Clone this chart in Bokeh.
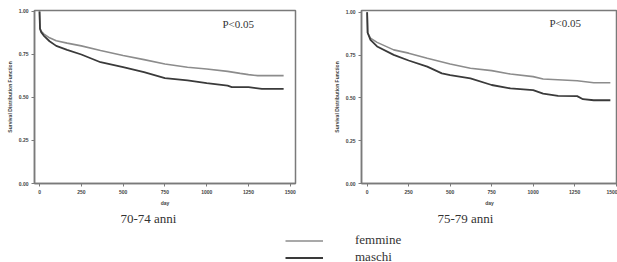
from bokeh.plotting import figure
from bokeh.layouts import column, row
from bokeh.models import (FixedTicker, Title, Label, Legend, LegendItem,
                          NumeralTickFormatter, Range1d)
from bokeh.embed import file_html
from bokeh.resources import INLINE

# ---------------- data ----------------
x_ticks = [0, 250, 500, 750, 1000, 1250, 1500]
y_ticks = [0.0, 0.25, 0.5, 0.75, 1.0]
panel_titles = ["70-74 anni", "75-79 anni"]
series_names = ["femmine", "maschi"]
p_text = "P<0.05"

l_fem_days = [0, 3, 10, 25, 60, 100, 165, 250, 365, 500, 625, 750, 885, 1000, 1125, 1200, 1250, 1305, 1460]
l_fem_surv = [1.0, 0.90, 0.885, 0.87, 0.847, 0.83, 0.816, 0.80, 0.773, 0.744, 0.72, 0.695, 0.676, 0.666, 0.652, 0.64, 0.633, 0.627, 0.627]
l_mas_days = [0, 3, 10, 25, 60, 100, 165, 250, 365, 500, 625, 750, 885, 1000, 1125, 1150, 1250, 1330, 1460]
l_mas_surv = [1.0, 0.90, 0.88, 0.86, 0.827, 0.80, 0.777, 0.75, 0.705, 0.676, 0.647, 0.612, 0.60, 0.583, 0.569, 0.56, 0.56, 0.55, 0.55]

r_fem_days = [0, 3, 20, 60, 160, 250, 362, 500, 622, 750, 863, 1000, 1060, 1265, 1365, 1465]
r_fem_surv = [1.0, 0.88, 0.849, 0.824, 0.78, 0.761, 0.731, 0.698, 0.673, 0.659, 0.639, 0.624, 0.61, 0.60, 0.588, 0.588]
r_mas_days = [0, 3, 20, 60, 160, 250, 362, 450, 500, 622, 750, 863, 1000, 1060, 1150, 1265, 1300, 1365, 1465]
r_mas_surv = [1.0, 0.88, 0.839, 0.80, 0.751, 0.718, 0.682, 0.643, 0.633, 0.614, 0.575, 0.555, 0.545, 0.525, 0.512, 0.51, 0.492, 0.486, 0.486]

FEM_COLOR = "#8c8c8c"
MAS_COLOR = "#3a3a3a"
FRAME_COLOR = "#7a7a7a"
SERIF = "Liberation Serif"


def make_panel(width, x_range, y_range, mb_left, mb_right, mb_top,
               fem_x, fem_y, mas_x, mas_y, caption, cap_offset, p_x, p_y):
    p = figure(width=width, height=225, output_backend="svg", toolbar_location=None,
               x_range=Range1d(*x_range), y_range=Range1d(*y_range),
               min_border_left=mb_left, min_border_right=mb_right,
               min_border_top=mb_top, min_border_bottom=0,
               background_fill_color="white", border_fill_color="white")
    p.grid.visible = False
    p.outline_line_color = FRAME_COLOR
    p.outline_line_width = 1.5
    p.line(fem_x, fem_y, line_color=FEM_COLOR, line_width=1.6)
    p.line(mas_x, mas_y, line_color=MAS_COLOR, line_width=1.8)

    for ax in (p.xaxis[0], p.yaxis[0]):
        ax.axis_line_color = FRAME_COLOR
        ax.axis_line_width = 1.5
        ax.major_tick_line_color = FRAME_COLOR
        ax.major_tick_out = 3
        ax.major_tick_in = 0
        ax.minor_tick_line_color = None
        ax.major_label_text_font = "Liberation Sans"
        ax.major_label_text_font_size = "5px"
        ax.major_label_text_font_style = "bold"
        ax.major_label_text_color = "#444444"
        ax.axis_label_text_font = "Liberation Sans"
        ax.axis_label_text_font_size = "5px"
        ax.axis_label_text_font_style = "bold"
        ax.axis_label_text_color = "#444444"
        ax.major_label_standoff = 3
        ax.axis_label_standoff = 3

    p.xaxis.ticker = FixedTicker(ticks=x_ticks)
    p.yaxis.ticker = FixedTicker(ticks=y_ticks)
    p.yaxis.formatter = NumeralTickFormatter(format="0.00")
    p.xaxis.axis_label = "day"
    p.yaxis.axis_label = "Survival Distribution Function"
    p.yaxis.major_label_orientation = "horizontal"

    p.add_layout(Label(x=p_x, y=p_y, text=p_text, text_font=SERIF,
                       text_font_size="11px", text_color="#333333",
                       text_baseline="middle", text_align="left"))

    p.add_layout(Title(text=caption, align="left", offset=cap_offset, standoff=0,
                       text_font=SERIF, text_font_size="13px",
                       text_font_style="normal", text_color="#333333"), "below")
    return p


p1 = make_panel(330, (-30, 1531), (0, 1.0057), 34, 35, 7,
                l_fem_days, l_fem_surv, l_mas_days, l_mas_surv,
                panel_titles[0], 86, 1094, 0.925)
p2 = make_panel(287, (-34, 1508), (0, 1.01), 31, 0, 10,
                r_fem_days, r_fem_surv, r_mas_days, r_mas_surv,
                panel_titles[1], 76, 1098, 0.936)

lf = figure(width=617, height=37, output_backend="svg", toolbar_location=None,
            x_range=Range1d(0, 1), y_range=Range1d(0, 1),
            min_border=0, outline_line_color=None,
            background_fill_color="white", border_fill_color="white")
lf.axis.visible = False
lf.grid.visible = False
r_fem = lf.line(x=[-10, -9], y=[-10, -9], line_color=FEM_COLOR, line_width=1.6)
r_mas = lf.line(x=[-10, -9], y=[-10, -9], line_color=MAS_COLOR, line_width=2.2)
legend = Legend(items=[LegendItem(label=series_names[0], renderers=[r_fem]),
                       LegendItem(label=series_names[1], renderers=[r_mas])],
                location=(285, -3.5), orientation="vertical",
                glyph_width=38, glyph_height=17, label_height=17, label_width=40,
                label_standoff=32, spacing=0, padding=0, margin=0,
                border_line_color=None, background_fill_alpha=0,
                label_text_font=SERIF, label_text_font_size="13px",
                label_text_color="#333333")
lf.add_layout(legend, "center")

layout = column(row(p1, p2), lf)

with open("out.html", "w") as f:
    f.write(file_html(layout, INLINE))
